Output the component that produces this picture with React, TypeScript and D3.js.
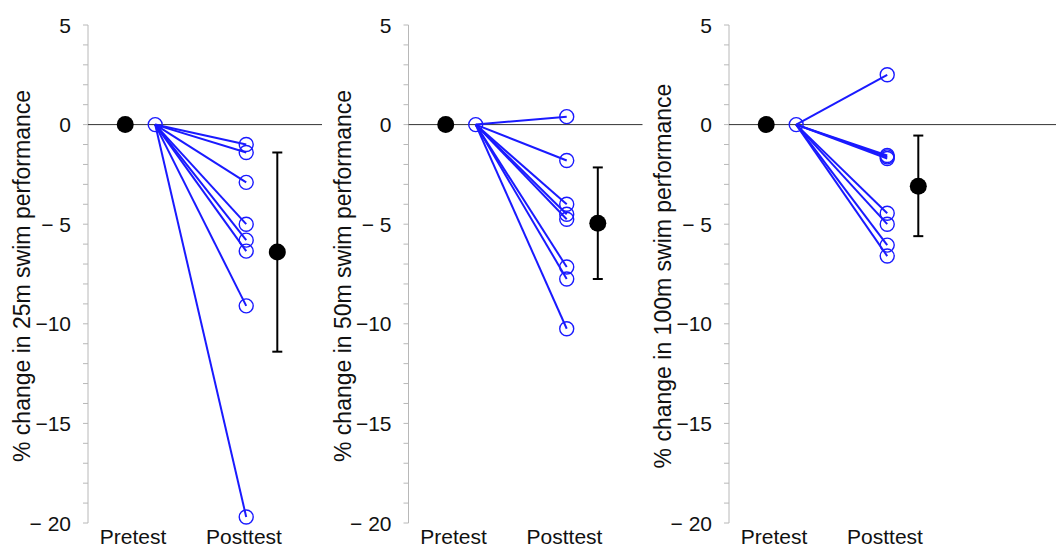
import React from "react";
import * as d3 from "d3";

const distances = ["25m", "50m", "100m"];
const categories = ["Pretest", "Posttest"];
const post25 = [-1.0, -1.4, -2.9, -5.0, -5.8, -6.35, -9.1, -19.7];
const post50 = [0.4, -1.8, -4.0, -4.5, -4.75, -7.15, -7.75, -10.25];
const post100 = [2.5, -1.55, -1.62, -1.7, -4.45, -5.0, -6.05, -6.6];
const posts = [post25, post50, post100];
const means = [-6.4, -4.95, -3.1];
const errLow = [-11.4, -7.75, -5.6];
const errHigh = [-1.4, -2.15, -0.55];
const yTicksMajor = [5, 0, -5, -10, -15, -20];
const yTickLabels = ["5", "0", "\u2212 5", "\u221210", "\u221215", "\u2212 20"];
const yTicksMinor = d3.range(-20, 6, 1);

const W = 1056;
const H = 547;
const FONT = "'Liberation Sans', Arial, Helvetica, sans-serif";
const BLUE = "#1a1aff";

function Panel({ idx }: { idx: number }) {
  const axisX = 88 + idx * 320.5;
  const y = d3.scaleLinear().domain([-20, 5]).range([523, 25]);
  // x in category units: Pretest = 1, Posttest = 2
  const x = d3.scaleLinear().domain([1, 2]).range([axisX + 45, axisX + 156]);
  const blackX = x(0.93);
  const openX = x(1.2);
  const postX = x(2.02);
  const errX = x(2.3);
  const zeroEnd = idx === 2 ? W : axisX + 234;
  const vals = posts[idx];
  return (
    <g>
      {/* axis */}
      <line x1={axisX} x2={axisX} y1={y(5)} y2={y(-20)} stroke="#b8b8b8" strokeWidth={1} />
      {yTicksMinor.map((t) => (
        <line key={t} x1={axisX - 5} x2={axisX} y1={y(t)} y2={y(t)} stroke="#b8b8b8" strokeWidth={1} />
      ))}
      {yTicksMajor.map((t, i) => (
        <text key={t} x={axisX - 17} y={y(t)} dy="0.36em" textAnchor="end" fontSize={21} fontFamily={FONT} fill="#111">
          {yTickLabels[i]}
        </text>
      ))}
      <text
        transform={`translate(${axisX - 58},${y(-7.6)}) rotate(-90)`}
        textAnchor="middle"
        fontSize={23}
        fontFamily={FONT}
        fill="#111"
      >
        {`% change in ${distances[idx]} swim performance`}
      </text>
      {categories.map((c, i) => (
        <text key={c} x={x(i + 1)} y={544} textAnchor="middle" fontSize={21} fontFamily={FONT} fill="#111">
          {c}
        </text>
      ))}
      {/* zero line */}
      <line x1={axisX} x2={zeroEnd} y1={y(0)} y2={y(0)} stroke="#333" strokeWidth={1} />
      {/* pretest mean */}
      <circle cx={blackX} cy={y(0)} r={8.5} fill="#000" />
      {/* individual circles */}
      <circle cx={openX} cy={y(0)} r={7} fill="none" stroke={BLUE} strokeWidth={1.4} />
      {vals.map((v, i) => (
        <circle key={"c" + i} cx={postX} cy={y(v)} r={7} fill="none" stroke={BLUE} strokeWidth={1.4} />
      ))}
      {vals.map((v, i) => (
        <line key={"l" + i} x1={openX} y1={y(0)} x2={postX} y2={y(v)} stroke={BLUE} strokeWidth={2} />
      ))}
      {/* error bar */}
      <line x1={errX} x2={errX} y1={y(errLow[idx])} y2={y(errHigh[idx])} stroke="#000" strokeWidth={2} />
      <line x1={errX - 5} x2={errX + 5} y1={y(errLow[idx])} y2={y(errLow[idx])} stroke="#000" strokeWidth={2} />
      <line x1={errX - 5} x2={errX + 5} y1={y(errHigh[idx])} y2={y(errHigh[idx])} stroke="#000" strokeWidth={2} />
      <circle cx={errX} cy={y(means[idx])} r={8.5} fill="#000" />
    </g>
  );
}

export default function App() {
  return (
    <div style={{ position: "fixed", left: 0, top: 0 }}>
      <svg width={W} height={H} style={{ display: "block", background: "#fff" }}>
        {distances.map((d, i) => (
          <Panel key={d} idx={i} />
        ))}
      </svg>
    </div>
  );
}
